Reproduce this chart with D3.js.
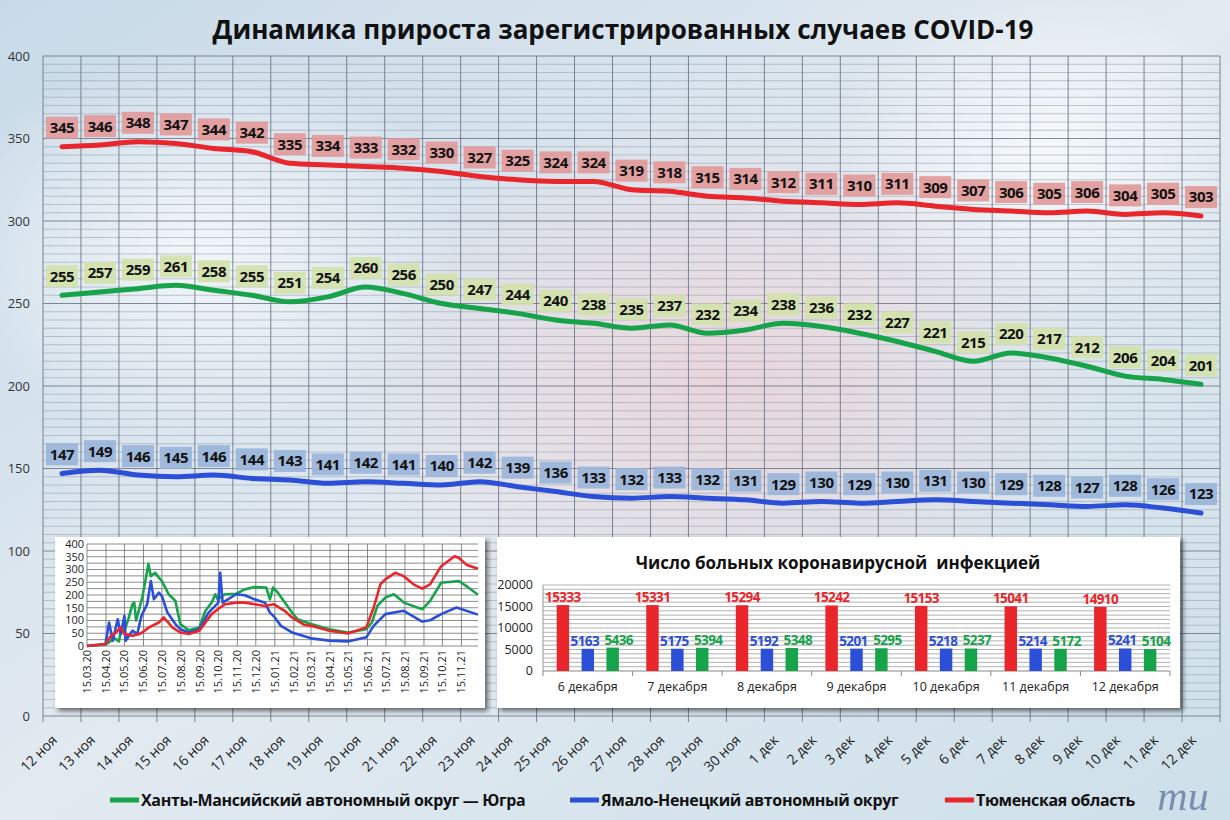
<!DOCTYPE html>
<html>
<head>
<meta charset="utf-8">
<script src="https://d3js.org/d3.v7.min.js"></script>
<style>
 body {margin:0; background:#dbe6ef;}
 text {font-family: "Open Sans", "Noto Sans", sans-serif;}
</style>
</head>
<body onload="init()">
<svg width="1230" height="820"></svg>
<script>

// main chart: daily growth, 12 Nov - 12 Dec
var days = ["12 ноя","13 ноя","14 ноя","15 ноя","16 ноя","17 ноя","18 ноя","19 ноя","20 ноя","21 ноя",
 "22 ноя","23 ноя","24 ноя","25 ноя","26 ноя","27 ноя","28 ноя","29 ноя","30 ноя",
 "1 дек","2 дек","3 дек","4 дек","5 дек","6 дек","7 дек","8 дек","9 дек","10 дек","11 дек","12 дек"];
var tyumen = [345,346,348,347,344,342,335,334,333,332,330,327,325,324,324,319,318,315,314,
 312,311,310,311,309,307,306,305,306,304,305,303];
var hmao = [255,257,259,261,258,255,251,254,260,256,250,247,244,240,238,235,237,232,234,
 238,236,232,227,221,215,220,217,212,206,204,201];
var yanao = [147,149,146,145,146,144,143,141,142,141,140,142,139,136,133,132,133,132,131,
 129,130,129,130,131,130,129,128,127,128,126,123];
var yTicks = [0,50,100,150,200,250,300,350,400];

// small chart: whole epidemic
var histTicks = ["15.03.20","15.04.20","15.05.20","15.06.20","15.07.20","15.08.20","15.09.20","15.10.20",
 "15.11.20","15.12.20","15.01.21","15.02.21","15.03.21","15.04.21","15.05.21","15.06.21","15.07.21",
 "15.08.21","15.09.21","15.10.21","15.11.21"];
var histYTicks = [0,50,100,150,200,250,300,350,400];
var hmaoHist = [["2020-03-15",0],["2020-04-14",5],["2020-04-29",30],["2020-05-06",18],["2020-05-10",70],
 ["2020-05-15",60],["2020-05-22",110],["2020-05-28",164],["2020-05-31",170],["2020-06-03",100],["2020-06-13",190],
 ["2020-06-19",268],["2020-06-23",322],["2020-06-27",274],["2020-07-04",287],["2020-07-10",268],["2020-07-15",255],
 ["2020-07-26",203],["2020-08-06",177],["2020-08-14",86],["2020-08-28",62],["2020-09-14",73],["2020-09-24",138],
 ["2020-10-04",170],["2020-10-10",203],["2020-10-14",183],["2020-10-26",203],["2020-11-13",205],["2020-11-27",222],
 ["2020-12-13",231],["2021-01-01",229],["2021-01-07",183],["2021-01-12",229],["2021-01-20",209],["2021-02-12",131],
 ["2021-02-21",105],["2021-03-15",86],["2021-04-14",66],["2021-05-14",53],["2021-06-13",66],["2021-06-22",92],
 ["2021-07-01",157],["2021-07-14",190],["2021-07-28",203],["2021-08-10",177],["2021-08-13",170],["2021-09-12",144],
 ["2021-09-25",177],["2021-10-13",248],["2021-11-11",255],["2021-11-23",235],["2021-12-12",201]];
var yanaoHist = [["2020-03-15",0],["2020-04-14",8],["2020-04-20",92],["2020-04-26",21],["2020-05-04",105],
 ["2020-05-09",47],["2020-05-15",118],["2020-05-17",21],["2020-05-28",60],["2020-06-05",47],["2020-06-11",112],
 ["2020-06-13",125],["2020-06-21",164],["2020-06-27",255],["2020-07-02",183],["2020-07-10",209],["2020-07-15",196],
 ["2020-07-24",131],["2020-08-06",86],["2020-08-14",66],["2020-08-28",53],["2020-09-14",66],["2020-09-29",131],
 ["2020-10-15",170],["2020-10-18",287],["2020-10-22",170],["2020-11-13",203],["2020-11-27",199],["2020-12-13",183],
 ["2020-12-30",170],["2021-01-07",131],["2021-01-13",118],["2021-01-25",79],["2021-02-12",53],["2021-03-15",30],
 ["2021-04-14",21],["2021-05-14",18],["2021-06-13",34],["2021-06-25",79],["2021-07-14",125],["2021-08-13",138],
 ["2021-09-12",96],["2021-09-25",101],["2021-10-13",125],["2021-11-07",151],["2021-12-12",123]];
var tyumenHist = [["2020-03-15",0],["2020-04-14",8],["2020-04-23",40],["2020-05-01",53],["2020-05-09",73],
 ["2020-05-15",47],["2020-05-28",40],["2020-06-08",47],["2020-06-13",53],["2020-06-24",73],["2020-07-10",92],
 ["2020-07-18",112],["2020-07-24",96],["2020-08-01",73],["2020-08-14",53],["2020-08-28",47],["2020-09-14",60],
 ["2020-10-04",125],["2020-10-14",144],["2020-10-26",164],["2020-11-13",170],["2020-11-27",170],["2020-12-13",164],
 ["2020-12-30",157],["2021-01-13",164],["2021-01-31",138],["2021-02-12",112],["2021-03-04",83],["2021-03-15",79],
 ["2021-04-14",60],["2021-05-14",49],["2021-06-13",73],["2021-06-25",151],["2021-07-06",242],["2021-07-14",261],
 ["2021-07-30",287],["2021-08-13",274],["2021-08-29",242],["2021-09-12",225],["2021-09-25",242],["2021-10-13",313],
 ["2021-11-04",352],["2021-11-11",345],["2021-11-23",319],["2021-12-12",303]];

// bar chart: number of patients
var barDays = ["6 декабря","7 декабря","8 декабря","9 декабря","10 декабря","11 декабря","12 декабря"];
var barTyumen = [15333,15331,15294,15242,15153,15041,14910];
var barYanao = [5163,5175,5192,5201,5218,5214,5241];
var barHmao = [5436,5394,5348,5295,5237,5172,5104];
var barYTicks = [0,5000,10000,15000,20000];

var RED = "#e8262b", GREEN = "#16a34a", BLUE = "#2b4fd6";

function init() {

 var svg = d3.select("svg");
 var defs = svg.append("defs");

 var bg = defs.append("linearGradient").attr("id","bg").attr("x1",0).attr("y1",0).attr("x2",1).attr("y2",1);
 bg.append("stop").attr("offset","0%").attr("stop-color","#c8dae8");
 bg.append("stop").attr("offset","50%").attr("stop-color","#e2eaf1");
 bg.append("stop").attr("offset","100%").attr("stop-color","#cddfe9");
 var pink = defs.append("radialGradient").attr("id","pink");
 pink.append("stop").attr("offset","0%").attr("stop-color","#e9d3d8").attr("stop-opacity",0.9);
 pink.append("stop").attr("offset","100%").attr("stop-color","#e9d3d8").attr("stop-opacity",0);
 var glow = defs.append("radialGradient").attr("id","glow");
 glow.append("stop").attr("offset","0%").attr("stop-color","#ffffff").attr("stop-opacity",0.7);
 glow.append("stop").attr("offset","100%").attr("stop-color","#ffffff").attr("stop-opacity",0);
 var sh = defs.append("filter").attr("id","shadow").attr("x","-5%").attr("y","-5%").attr("width","115%").attr("height","120%");
 sh.append("feDropShadow").attr("dx",3).attr("dy",3).attr("stdDeviation",2.5)
  .attr("flood-color","#000").attr("flood-opacity",0.55);

 svg.append("rect").attr("width",1230).attr("height",820).attr("fill","url(#bg)");
 svg.append("ellipse").attr("cx",720).attr("cy",380).attr("rx",380).attr("ry",260).attr("fill","url(#pink)");
 svg.append("ellipse").attr("cx",200).attr("cy",250).attr("rx",260).attr("ry",200).attr("fill","url(#glow)");
 svg.append("ellipse").attr("cx",1050).attr("cy",150).attr("rx",220).attr("ry",160).attr("fill","url(#glow)");

 // title
 svg.append("text").attr("x",623).attr("y",39).attr("text-anchor","middle")
  .style("font-size","26px").style("font-weight","bold").attr("fill","#111")
  .text("Динамика прироста зарегистрированных случаев COVID-19");

 // ---------- main chart ----------
 var x = d3.scaleBand().domain(days).range([43,1220]);
 var y = d3.scaleLinear().domain([0,400]).range([716,56]);
 var cx = function(i) { return x(days[i]) + x.bandwidth()/2; };

 var grid = svg.append("g");
 grid.selectAll("line.minor").data(d3.range(0,401,5)).enter().append("line")
  .attr("x1",43).attr("x2",1220).attr("y1",d => y(d)).attr("y2",d => y(d))
  .attr("stroke", d => d % 50 == 0 ? "#6f7686" : "#8e97a6")
  .attr("stroke-width", d => d % 50 == 0 ? 1.1 : 0.6).attr("opacity",0.85);
 grid.selectAll("line.v").data(days.concat(["end"])).enter().append("line")
  .attr("x1",(d,i) => 43 + i*x.bandwidth()).attr("x2",(d,i) => 43 + i*x.bandwidth())
  .attr("y1",56).attr("y2",722).attr("stroke","#6f7686").attr("stroke-width",0.9);

 svg.append("g").selectAll("text").data(yTicks).enter().append("text")
  .attr("x",30).attr("y",d => y(d)).attr("dy","0.35em").attr("text-anchor","end")
  .style("font-size","13px").attr("fill","#333").text(d => d);

 svg.append("g").selectAll("text").data(days).enter().append("text")
  .attr("transform",(d,i) => "translate(" + (cx(i) - 4) + ",741) rotate(-45)")
  .attr("text-anchor","end").style("font-size","14px").attr("fill","#222").text(d => d);

 // ---------- small chart (whole period) ----------
 var parse = d3.timeParse("%Y-%m-%d");
 var parseTick = d3.timeParse("%d.%m.%y");
 var left = svg.append("g");
 left.append("rect").attr("x",55).attr("y",537).attr("width",430).attr("height",171)
  .attr("fill","#fff").attr("filter","url(#shadow)");
 var hx = d3.scaleTime().domain([parse("2020-03-15"), parse("2021-12-12")]).range([87,478]);
 var hy = d3.scaleLinear().domain([0,400]).range([646,544]);
 left.selectAll("line.h").data(d3.range(0,401,25)).enter().append("line")
  .attr("x1",87).attr("x2",478).attr("y1",d => hy(d)).attr("y2",d => hy(d))
  .attr("stroke","#6e6e6e").attr("stroke-width",0.8);
 left.selectAll("line.v").data(histTicks).enter().append("line")
  .attr("x1",d => hx(parseTick(d))).attr("x2",d => hx(parseTick(d)))
  .attr("y1",544).attr("y2",646).attr("stroke","#6e6e6e").attr("stroke-width",0.8);
 left.selectAll("text.y").data(histYTicks).enter().append("text")
  .attr("x",84).attr("y",d => hy(d)).attr("dy","0.35em").attr("text-anchor","end")
  .style("font-size","11px").attr("fill","#222").text(d => d);
 left.selectAll("text.x").data(histTicks).enter().append("text")
  .attr("transform",d => "translate(" + (hx(parseTick(d)) + 4) + ",650) rotate(-90)")
  .attr("text-anchor","end").style("font-size","11px").attr("fill","#222").text(d => d);
 var hline = d3.line().x(d => hx(parse(d[0]))).y(d => hy(d[1]));
 [[hmaoHist,GREEN],[yanaoHist,BLUE],[tyumenHist,RED]].forEach(function(s) {
  left.append("path").attr("d",hline(s[0])).attr("fill","none")
   .attr("stroke",s[1]).attr("stroke-width",2.6).attr("stroke-linejoin","round");
 });

 // ---------- bar chart ----------
 var bar = svg.append("g");
 bar.append("rect").attr("x",497).attr("y",537).attr("width",683).attr("height",171)
  .attr("fill","#fff").attr("filter","url(#shadow)");
 bar.append("text").attr("x",838).attr("y",569).attr("text-anchor","middle")
  .style("font-size","17px").style("font-weight","bold").attr("fill","#111")
  .text("Число больных коронавирусной  инфекцией").attr("xml:space","preserve");
 var bx = d3.scaleBand().domain(barDays).range([543,1170]);
 var by = d3.scaleLinear().domain([0,20000]).range([671,585]);
 var sub = d3.scaleBand().domain(["t","y","h"]).range([0,bx.bandwidth()]).paddingInner(0.5).paddingOuter(0.55);
 bar.selectAll("line.h").data(d3.range(1000,20001,1000)).enter().append("line")
  .attr("x1",543).attr("x2",1170).attr("y1",d => by(d)).attr("y2",d => by(d))
  .attr("stroke","#a0a0a0").attr("stroke-width",0.8);
 bar.append("line").attr("x1",543).attr("x2",543).attr("y1",585).attr("y2",671).attr("stroke","#999");
 bar.append("line").attr("x1",543).attr("x2",1170).attr("y1",671).attr("y2",671).attr("stroke","#888");
 bar.selectAll("line.t").data(barDays.concat(["end"])).enter().append("line")
  .attr("x1",(d,i) => 543 + i*bx.bandwidth()).attr("x2",(d,i) => 543 + i*bx.bandwidth())
  .attr("y1",671).attr("y2",676).attr("stroke","#888");
 bar.selectAll("text.y").data(barYTicks).enter().append("text")
  .attr("x",533).attr("y",d => by(d)).attr("dy","0.35em").attr("text-anchor","end")
  .style("font-size","12.5px").attr("fill","#222").text(d => d);
 bar.selectAll("text.x").data(barDays).enter().append("text")
  .attr("x",d => bx(d) + bx.bandwidth()/2).attr("y",691).attr("text-anchor","middle")
  .style("font-size","12.5px").attr("fill","#222").text(d => d);
 [["t",barTyumen,RED,0],["y",barYanao,BLUE,-3],["h",barHmao,GREEN,6]].forEach(function(s) {
  var g = bar.append("g");
  g.selectAll("rect").data(s[1]).enter().append("rect")
   .attr("x",(d,i) => bx(barDays[i]) + sub(s[0])).attr("width",sub.bandwidth())
   .attr("y",d => by(d)).attr("height",d => by(0) - by(d)).attr("fill",s[2]);
  g.selectAll("text").data(s[1]).enter().append("text")
   .attr("x",(d,i) => bx(barDays[i]) + sub(s[0]) + sub.bandwidth()/2 + s[3]).attr("y",d => by(d) - 3)
   .attr("text-anchor","middle").style("font-size","13.5px").style("font-weight","bold")
   .style("letter-spacing","-0.6px").attr("fill",s[2]).text(d => d);
 });

 // ---------- main lines and labels ----------
 var line = d3.line().x((d,i) => cx(i)).y(d => y(d)).curve(d3.curveMonotoneX);
 var series = [[tyumen,RED,"#e29a9a"],[hmao,GREEN,"#d2e2ab"],[yanao,BLUE,"#9ab5da"]];
 series.forEach(function(s) {
  svg.append("path").attr("d",line(s[0])).attr("fill","none").attr("stroke",s[1])
   .attr("stroke-width",5).attr("stroke-linecap","round");
 });
 series.forEach(function(s) {
  var lab = svg.append("g").selectAll("g").data(s[0]).enter().append("g")
   .attr("transform",(d,i) => "translate(" + cx(i) + "," + (y(d) - 19) + ")");
  lab.append("rect").attr("x",-16).attr("y",-11).attr("width",32).attr("height",22)
   .attr("fill",s[2]).attr("opacity",0.92);
  lab.append("text").attr("text-anchor","middle").attr("dy","0.36em")
   .style("font-size","15px").style("font-weight","bold").style("letter-spacing","-0.4px")
   .attr("fill","#111").text(d => d);
 });

 // ---------- legend ----------
 var legend = [["Ханты-Мансийский автономный округ — Югра",GREEN,110],
  ["Ямало-Ненецкий автономный округ",BLUE,570],["Тюменская область",RED,945]];
 var lg = svg.append("g").selectAll("g").data(legend).enter().append("g")
  .attr("transform",d => "translate(" + d[2] + ",800)");
 lg.append("line").attr("x1",0).attr("x2",29).attr("stroke",d => d[1]).attr("stroke-width",5);
 lg.append("text").attr("x",31).attr("dy","0.35em").style("font-size","16px").style("font-weight","bold")
  .style("letter-spacing","-0.35px").attr("fill","#111").text(d => d[0]);

 // newspaper mark
 svg.append("text").attr("x",1183).attr("y",810).attr("text-anchor","middle")
  .style("font-family","'Liberation Serif', 'DejaVu Serif', serif").style("font-style","italic")
  .style("font-size","42px").attr("fill","#6c80a6").attr("opacity",0.85).text("ти");
}

</script>
</body>
</html>
